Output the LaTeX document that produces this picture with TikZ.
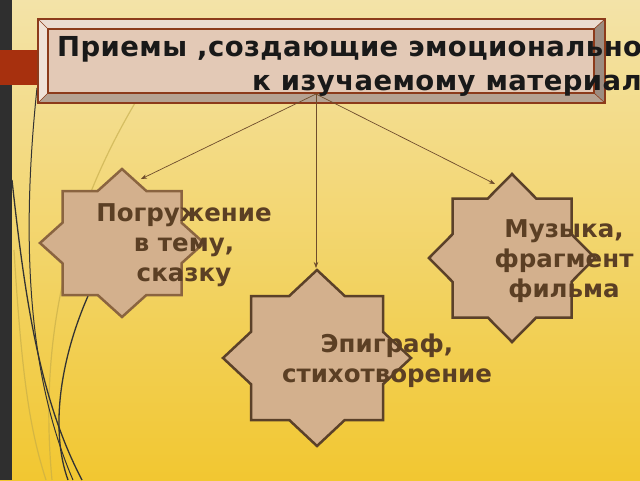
\documentclass[tikz,border=0pt]{standalone}
\usepackage{fontspec}
\setmainfont{DejaVu Sans}
\usetikzlibrary{arrows.meta}
\definecolor{bgtop}{HTML}{F3E3A8}
\definecolor{bgbot}{HTML}{F2C731}
\definecolor{strip}{HTML}{2F2F2F}
\definecolor{redbar}{HTML}{A7300E}
\definecolor{boxline}{HTML}{8C3B1B}
\definecolor{bevtop}{HTML}{EBDBD0}
\definecolor{bevleft}{HTML}{F0E2D8}
\definecolor{bevright}{HTML}{9C8C80}
\definecolor{bevbot}{HTML}{B5A292}
\definecolor{face}{HTML}{E3C9B6}
\definecolor{starfill}{HTML}{D3B08D}
\definecolor{starline}{HTML}{5B4129}
\definecolor{starlineL}{HTML}{8A6440}
\definecolor{startext}{HTML}{5B3F24}
\definecolor{arrowc}{HTML}{6E4C2C}
\definecolor{curvec}{HTML}{333333}
\definecolor{faintc}{HTML}{C2AA48}
\tikzset{
  starshape/.style={fill=starfill, draw=starline, line width=2.5pt, line join=miter},
  labeltext/.style={text=startext, font=\fontsize{24.5}{30}\selectfont\bfseries, align=center, inner sep=0pt},
  titletext/.style={text=black!90, font=\fontsize{27.5}{34}\selectfont\bfseries\addfontfeature{LetterSpace=1.5}, inner sep=0pt, anchor=base west},
  conn/.style={draw=arrowc, line width=0.7pt, -{Stealth[length=6pt,width=4.5pt]}},
  deco/.style={draw=curvec, line width=1.3pt},
  faint/.style={draw=faintc, line width=1.2pt, opacity=0.6}
}
% star: cx cy ax ay Rx Ry style
\newcommand\eightstar[7]{%
  \path[#7] (#1,{#2-#6})
    -- ({#1+#5*(1-#4/#6)},{#2-#4}) -- ({#1+#3},{#2-#4})
    -- ({#1+#3},{#2-#6*(1-#3/#5)}) -- ({#1+#5},#2)
    -- ({#1+#3},{#2+#6*(1-#3/#5)}) -- ({#1+#3},{#2+#4})
    -- ({#1+#5*(1-#4/#6)},{#2+#4}) -- (#1,{#2+#6})
    -- ({#1-#5*(1-#4/#6)},{#2+#4}) -- ({#1-#3},{#2+#4})
    -- ({#1-#3},{#2+#6*(1-#3/#5)}) -- ({#1-#5},#2)
    -- ({#1-#3},{#2-#6*(1-#3/#5)}) -- ({#1-#3},{#2-#4})
    -- ({#1-#5*(1-#4/#6)},{#2-#4}) -- cycle;}
\begin{document}
\begin{tikzpicture}[x=1pt,y=-1pt]
\useasboundingbox (0,0) rectangle (640,480);
\clip (0,0) rectangle (640,480);
% background
\shade[top color=bgtop, bottom color=bgbot] (0,0) rectangle (640,480);
\fill[strip] (0,0) rectangle (12,480);
\fill[redbar] (0,50) rectangle (38,85);
% decorative curves
\draw[faint] (135,103) .. controls (90,180) and (35,300) .. (52,480);
\draw[faint] (14,250) .. controls (22,380) and (30,430) .. (46,480);
\draw[deco, line width=1pt] (37,88) .. controls (20,250) and (30,380) .. (73,480);
\draw[deco] (12,180) .. controls (25,300) and (40,400) .. (82,480);
\draw[deco] (88,296) .. controls (60,360) and (50,430) .. (68,480);
% title box
\fill[bevtop] (38,19) -- (605,19) -- (594,29) -- (48,29) -- cycle;
\fill[bevleft] (38,19) -- (48,29) -- (48,93) -- (38,103) -- cycle;
\fill[bevright] (605,19) -- (605,103) -- (594,93) -- (594,29) -- cycle;
\fill[bevbot] (38,103) -- (605,103) -- (594,93) -- (48,93) -- cycle;
\fill[face] (48,29) rectangle (594,93);
\draw[boxline, line width=0.6pt] (38,19) -- (48,29) (605,19) -- (594,29) (38,103) -- (48,93) (605,103) -- (594,93);
\draw[boxline, line width=1.4pt] (48,29) rectangle (594,93);
\draw[boxline, line width=1.6pt] (38,19) rectangle (605,103);
\node (titlebox) at (321.5,61) [minimum width=567pt, minimum height=84pt, inner sep=0pt] {};
\node[titletext] (title1) at (57,56) {Приемы ,создающие эмоциональное отношение};
\node[titletext] (title2) at (252,90) {к изучаемому материалу};
% stars
\eightstar{122}{243}{59.5}{52}{82}{74}{starshape, draw=starlineL}
\eightstar{512}{258}{59.5}{59.5}{83}{84}{starshape}
\eightstar{317}{358}{66}{62}{94}{88}{starshape}
% labels
\node[labeltext] (lbl1) at (184,245) {Погружение\\в тему,\\сказку};
\node[labeltext] (lbl2) at (564,261) {Музыка,\\фрагмент\\фильма};
\node[labeltext] (lbl3) at (387,361) {Эпиграф,\\стихотворение};
% connectors
\coordinate (hub) at (316,94);
\coordinate (tipL) at (141,179);
\coordinate (tipM) at (316,268);
\coordinate (tipR) at (495,184);
\draw[conn] (hub) -- (tipL);
\draw[conn] (hub) -- (tipM);
\draw[conn] (hub) -- (tipR);
\end{tikzpicture}
\end{document}
